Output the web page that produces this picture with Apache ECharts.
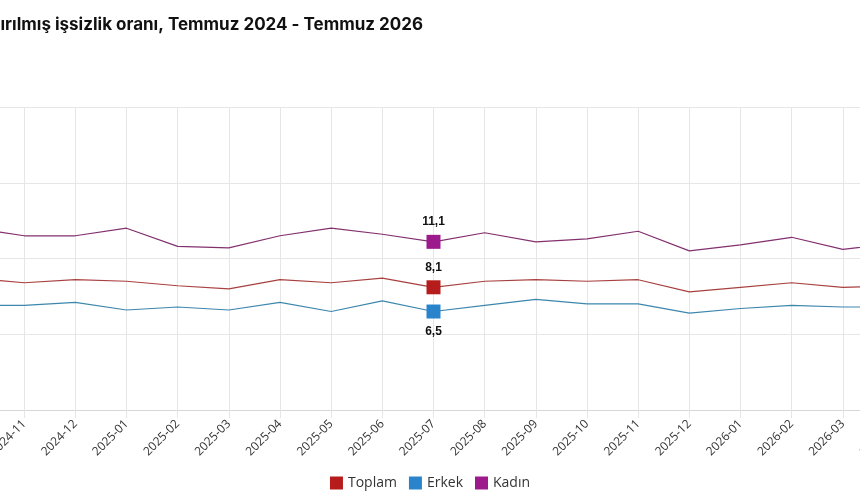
<!DOCTYPE html>
<html>
<head>
<meta charset="utf-8">
<script src="https://cdn.jsdelivr.net/npm/echarts@6/dist/echarts.min.js"></script>
<style>html,body{margin:0;padding:0;background:#fff}#c{width:860px;height:504px}</style>
</head>
<body>
<div id="c"></div>
<script>
const titleText = 'Mevsim etkilerinden arındırılmış işsizlik oranı, Temmuz 2024 - Temmuz 2026';
const months = ['2024-10','2024-11','2024-12','2025-01','2025-02','2025-03','2025-04','2025-05','2025-06','2025-07','2025-08','2025-09','2025-10','2025-11','2025-12','2026-01','2026-02','2026-03','2026-04'];
const toplam = [8.7, 8.4, 8.6, 8.5, 8.2, 8.0, 8.6, 8.4, 8.7, 8.1, 8.5, 8.6, 8.5, 8.6, 7.8, 8.1, 8.4, 8.1, 8.2];
const erkek  = [6.9, 6.9, 7.1, 6.6, 6.8, 6.6, 7.1, 6.5, 7.2, 6.5, 6.9, 7.3, 7.0, 7.0, 6.4, 6.7, 6.9, 6.8, 6.8];
const kadin  = [12.0, 11.5, 11.5, 12.0, 10.8, 10.7, 11.5, 12.0, 11.6, 11.1, 11.7, 11.1, 11.3, 11.8, 10.5, 10.9, 11.4, 10.6, 11.0];
const yTicks = [0, 5, 10, 15, 20];
const highlightMonth = '2025-07';

const hi = months.indexOf(highlightMonth);
const fmt = v => String(v).replace('.', ',');

function mkSeries(name, vals, color, lineColor, labelPos) {
  return {
    name: name,
    type: 'line',
    data: vals.map((v, i) => i === hi
      ? { value: v, symbolSize: 14, label: { show: true, position: labelPos } }
      : v),
    symbol: 'rect',
    symbolSize: 0,
    showSymbol: true,
    itemStyle: { color: color },
    lineStyle: { color: lineColor, width: 1.2 },
    label: {
      show: false,
      formatter: p => fmt(p.value),
      color: '#111',
      fontWeight: 'bold',
      fontSize: 12,
      fontFamily: 'Liberation Sans, Arial, sans-serif',
      distance: 7
    },
    emphasis: { disabled: true },
    animation: false
  };
}

const chart = echarts.init(document.getElementById('c'));
chart.setOption({
  animation: false,
  title: {
    text: titleText,
    right: 432,
    top: 11,
    textAlign: 'left',
    textStyle: { fontFamily: 'Inter, sans-serif', fontWeight: 'bold', fontSize: 17, color: '#111' }
  },
  legend: {
    bottom: 9,
    left: 'center',
    icon: 'rect',
    itemWidth: 13,
    itemHeight: 13,
    itemGap: 12,
    textStyle: { fontFamily: 'Open Sans, sans-serif', fontSize: 14, color: '#333' },
    data: ['Toplam', 'Erkek', 'Kadın']
  },
  grid: { left: -27, right: -34, top: 107, bottom: 94, containLabel: false, outerBoundsMode: 'none' },
  xAxis: {
    type: 'category',
    data: months,
    boundaryGap: false,
    axisLine: { lineStyle: { color: '#d8d8d8' } },
    axisTick: { show: true, length: 8, lineStyle: { color: '#e6e6e6' } },
    splitLine: { show: true, lineStyle: { color: '#e6e6e6' } },
    axisLabel: { interval: 0, rotate: 45, color: '#333', fontSize: 12, fontFamily: 'Open Sans, sans-serif', margin: 12 }
  },
  yAxis: {
    type: 'value',
    min: yTicks[0],
    max: yTicks[yTicks.length - 1],
    interval: yTicks[1] - yTicks[0],
    axisLine: { show: false },
    axisTick: { show: false },
    splitLine: { lineStyle: { color: '#e6e6e6' } },
    axisLabel: { color: '#333' }
  },
  series: [
    mkSeries('Toplam', toplam, '#b71c1c', '#a8403f', 'top'),
    mkSeries('Erkek', erkek, '#2a84cc', '#3d87ad', 'bottom'),
    mkSeries('Kadın', kadin, '#9c1a8c', '#83306f', 'top')
  ]
});
</script>
</body>
</html>
